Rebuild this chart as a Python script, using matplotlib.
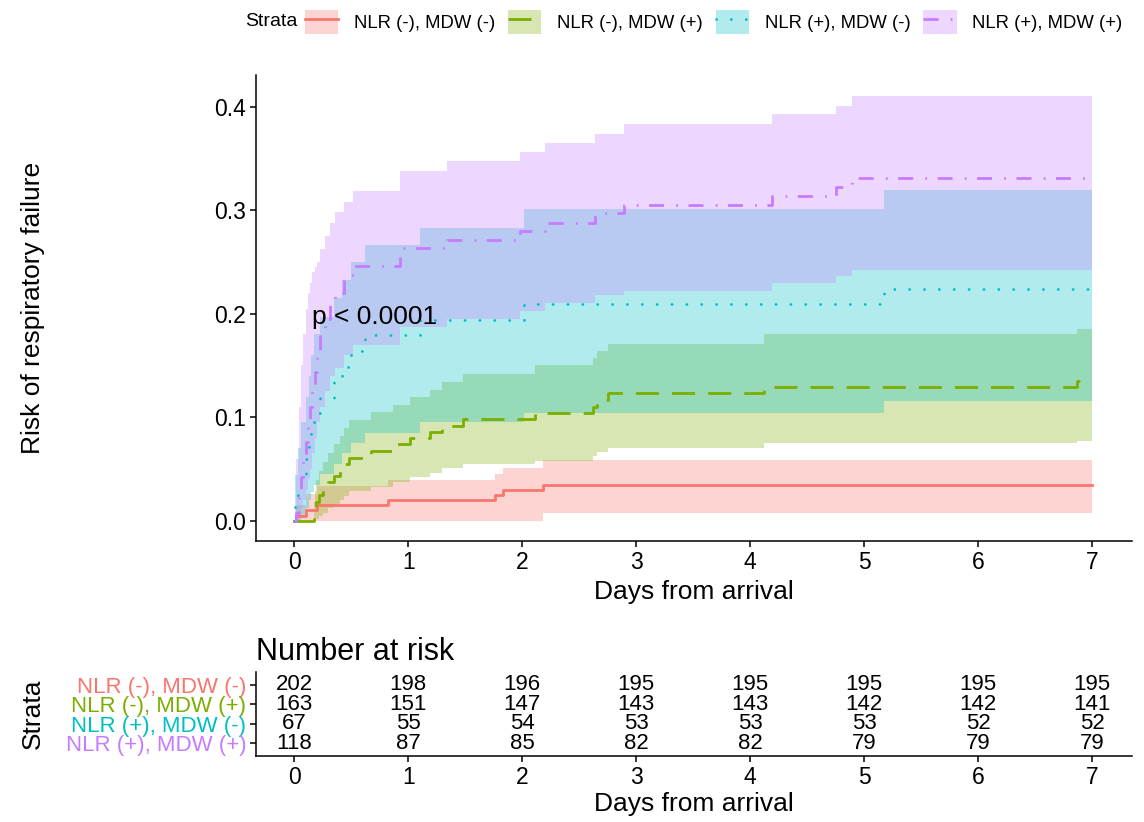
import matplotlib
matplotlib.use("Agg")
import matplotlib.pyplot as plt
from matplotlib.patches import Patch
from matplotlib.lines import Line2D

plt.rcParams['font.family'] = ['Liberation Sans', 'DejaVu Sans']

# ---------------- data ----------------
strata = ["NLR (-), MDW (-)", "NLR (-), MDW (+)", "NLR (+), MDW (-)", "NLR (+), MDW (+)"]
colors = ["#F8766D", "#7CAE00", "#00BFC4", "#C77CFF"]

t_red = [0, 0.02, 0.10, 0.20, 0.82, 1.76, 1.83, 2.18, 7.0]
p_red = [0, 0.005, 0.010, 0.015, 0.020, 0.025, 0.030, 0.035, 0.035]
lo_red = [0, 0, 0, 0, 0, 0, 0, 0.008, 0.008]
hi_red = [0, 0.015, 0.026, 0.034, 0.039, 0.045, 0.051, 0.059, 0.059]

t_grn = [0, 0.17, 0.18, 0.19, 0.22, 0.25, 0.30, 0.35, 0.40, 0.44, 0.48, 0.67, 0.87, 1.02,
         1.19, 1.30, 1.48, 2.11, 2.62, 2.66, 2.75, 4.12, 6.87, 7.0]
p_grn = [0, 0.006, 0.012, 0.018, 0.025, 0.031, 0.037, 0.043, 0.049, 0.055, 0.061, 0.067,
         0.074, 0.080, 0.086, 0.092, 0.098, 0.104, 0.110, 0.117, 0.123, 0.129, 0.135, 0.135]
lo_grn = [0, 0, 0, 0.002, 0.005, 0.008, 0.012, 0.016, 0.020, 0.024, 0.029, 0.033, 0.037,
          0.042, 0.046, 0.051, 0.055, 0.058, 0.063, 0.066, 0.070, 0.075, 0.077, 0.077]
hi_grn = [0, 0.018, 0.029, 0.039, 0.048, 0.057, 0.065, 0.074, 0.082, 0.090, 0.097, 0.105,
          0.112, 0.120, 0.126, 0.134, 0.142, 0.150, 0.157, 0.164, 0.171, 0.180, 0.185, 0.185]

t_cyn = [0, 0.01, 0.03, 0.06, 0.10, 0.13, 0.15, 0.17, 0.23, 0.35, 0.42, 0.50, 0.62, 1.10,
         2.02, 5.17, 7.0]
p_cyn = [0, 0.015, 0.030, 0.045, 0.060, 0.075, 0.090, 0.104, 0.119, 0.134, 0.149, 0.164,
         0.179, 0.194, 0.209, 0.224, 0.224]
lo_cyn = [0, 0, 0, 0.005, 0.012, 0.020, 0.028, 0.035, 0.045, 0.055, 0.065, 0.075, 0.085,
          0.095, 0.104, 0.116, 0.116]
hi_cyn = [0, 0.044, 0.070, 0.095, 0.120, 0.140, 0.160, 0.180, 0.197, 0.215, 0.233, 0.250,
          0.266, 0.283, 0.301, 0.319, 0.319]

t_pur = [0, 0.02, 0.04, 0.06, 0.08, 0.10, 0.12, 0.14, 0.16, 0.18, 0.20, 0.23, 0.27, 0.31,
         0.36, 0.44, 0.52, 0.93, 1.34, 1.98, 2.20, 2.64, 2.89, 4.19, 4.75, 4.89, 7.0]
p_pur = [0, 0.008, 0.025, 0.042, 0.059, 0.076, 0.093, 0.110, 0.127, 0.144, 0.161, 0.178,
         0.195, 0.212, 0.220, 0.237, 0.246, 0.263, 0.271, 0.280, 0.288, 0.297, 0.305, 0.314,
         0.322, 0.331, 0.331]
lo_pur = [0, 0, 0.005, 0.012, 0.020, 0.030, 0.040, 0.050, 0.065, 0.080, 0.095, 0.110, 0.125,
          0.140, 0.148, 0.160, 0.170, 0.187, 0.195, 0.203, 0.210, 0.218, 0.222, 0.230, 0.236,
          0.242, 0.242]
hi_pur = [0, 0.060, 0.110, 0.150, 0.180, 0.205, 0.220, 0.230, 0.240, 0.245, 0.250, 0.262,
          0.275, 0.288, 0.298, 0.308, 0.318, 0.338, 0.347, 0.356, 0.365, 0.374, 0.383, 0.393,
          0.401, 0.410, 0.410]

risk_times = [0, 1, 2, 3, 4, 5, 6, 7]
risk_red = [202, 198, 196, 195, 195, 195, 195, 195]
risk_grn = [163, 151, 147, 143, 143, 142, 142, 141]
risk_cyn = [67, 55, 54, 53, 53, 53, 52, 52]
risk_pur = [118, 87, 85, 82, 82, 79, 79, 79]

y_ticks = [0.0, 0.1, 0.2, 0.3, 0.4]
x_ticks = [0, 1, 2, 3, 4, 5, 6, 7]
p_text = "p < 0.0001"

# ---------------- styles ----------------
lw = 2.0
styles = ['-', (0, (8.3, 4.7)), (0, (0.05, 5.3)), (0, (5.4, 4.4, 0.6, 3.8))]
caps = ['butt', 'butt', 'round', 'butt']

series = [
    (t_red, p_red, lo_red, hi_red),
    (t_grn, p_grn, lo_grn, hi_grn),
    (t_cyn, p_cyn, lo_cyn, hi_cyn),
    (t_pur, p_pur, lo_pur, hi_pur),
]
risks = [risk_red, risk_grn, risk_cyn, risk_pur]

W, H = 1144, 822
fig = plt.figure(figsize=(W / 100, H / 100), dpi=100)

# main axes
L, R = 256, 1132
top_m, bot_m = 75, 541
ax = fig.add_axes([L / W, 1 - bot_m / H, (R - L) / W, (bot_m - top_m) / H])

for (t, p, lo, hi), c in zip(series, colors):
    ax.fill_between(t, lo, hi, step='post', color=c, alpha=0.3, lw=0)
for (t, p, lo, hi), c, ls, cap in zip(series, colors, styles, caps):
    ax.step(t, p, where='post', color=c, lw=lw, ls=ls, dash_capstyle=cap)

ax.set_xlim(-0.335, 7.35)
ax.set_ylim(-0.0195, 0.4305)
ax.set_xticks(x_ticks)
ax.set_yticks(y_ticks)
ax.set_yticklabels([f"{v:.1f}" for v in y_ticks])
for s in ['top', 'right']:
    ax.spines[s].set_visible(False)
for s in ['left', 'bottom']:
    ax.spines[s].set_linewidth(1.1)
ax.tick_params(axis='both', labelsize=16.5, length=4, width=1.1, color='black', pad=3)
ax.set_xlabel("Days from arrival", fontsize=19)
ax.xaxis.set_label_coords(0.5, -(580 - bot_m) / (bot_m - top_m))
ax.set_ylabel("Risk of respiratory failure", fontsize=19)
ax.yaxis.set_label_coords((21 - L) / (R - L), 0.5)
ax.yaxis.label.set_va('top')
ax.text(0.16, 0.197, p_text, fontsize=19, va='center', ha='left')

# legend
fig.text(245 / W, 1 - 22 / H, "Strata", fontsize=14, va='center', ha='left')
handles = []
for c, ls, cap in zip(colors, styles, caps):
    handles.append((Patch(facecolor=c, alpha=0.3, lw=0),
                    Line2D([], [], color=c, lw=lw, ls=ls, dash_capstyle=cap)))
fig.legend(handles, strata, loc='center left', bbox_to_anchor=(305 / W, 1 - 22 / H),
           ncol=4, frameon=False, fontsize=13.3, handlelength=1.8, handleheight=1.6,
           handletextpad=0.85, columnspacing=0.7, borderpad=0, borderaxespad=0)

# risk table
top_t, bot_t = 672, 756
axt = fig.add_axes([L / W, 1 - bot_t / H, (R - L) / W, (bot_t - top_t) / H])
axt.set_xlim(-0.335, 7.35)
axt.set_ylim(0.35, 4.65)
rows = [4, 3, 2, 1]
for row, r in zip(rows, risks):
    for tt, n in zip(risk_times, r):
        axt.text(tt, row, str(n), ha='center', va='center', fontsize=16)
axt.set_yticks(rows)
axt.set_yticklabels(strata)
for lab, c in zip(axt.get_yticklabels(), colors):
    lab.set_color(c)
axt.set_xticks(x_ticks)
for s in ['top', 'right']:
    axt.spines[s].set_visible(False)
for s in ['left', 'bottom']:
    axt.spines[s].set_linewidth(1.1)
axt.tick_params(axis='y', labelsize=16, length=4, width=1.1, color='black', pad=3)
axt.tick_params(axis='x', labelsize=16.5, length=4, width=1.1, color='black', pad=3)
axt.set_xlabel("Days from arrival", fontsize=19)
axt.xaxis.set_label_coords(0.5, -(792 - bot_t) / (bot_t - top_t))
axt.set_ylabel("Strata", fontsize=19)
axt.yaxis.set_label_coords((21 - L) / (R - L), 0.5)
axt.yaxis.label.set_va('top')
axt.set_title("Number at risk", loc='left', fontsize=22, pad=9)

fig.savefig("out.png", dpi=100)
